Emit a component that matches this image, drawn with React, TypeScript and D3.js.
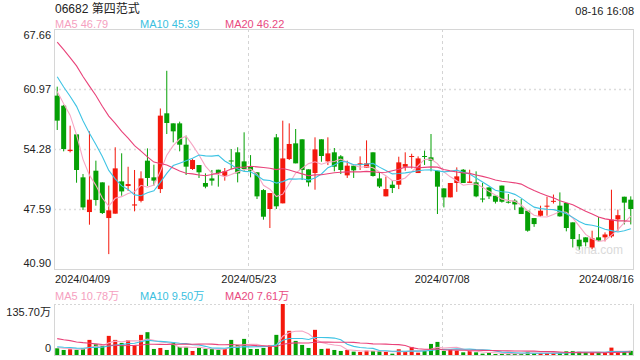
import React from 'react';
import * as d3 from 'd3';

const dates = [
  "2024/04/09","2024/04/10","2024/04/11","2024/04/12","2024/04/15","2024/04/16","2024/04/17","2024/04/18","2024/04/19","2024/04/22",
  "2024/04/23","2024/04/24","2024/04/25","2024/04/26","2024/04/29","2024/04/30","2024/05/02","2024/05/03","2024/05/06","2024/05/07",
  "2024/05/08","2024/05/09","2024/05/10","2024/05/13","2024/05/14","2024/05/16","2024/05/17","2024/05/20","2024/05/21","2024/05/22",
  "2024/05/23","2024/05/24","2024/05/27","2024/05/28","2024/05/29","2024/05/30","2024/05/31","2024/06/03","2024/06/04","2024/06/05",
  "2024/06/06","2024/06/07","2024/06/11","2024/06/12","2024/06/13","2024/06/14","2024/06/17","2024/06/18","2024/06/19","2024/06/20",
  "2024/06/21","2024/06/24","2024/06/25","2024/06/26","2024/06/27","2024/06/28","2024/07/02","2024/07/03","2024/07/04","2024/07/05",
  "2024/07/08","2024/07/09","2024/07/10","2024/07/11","2024/07/12","2024/07/15","2024/07/16","2024/07/17","2024/07/18","2024/07/19",
  "2024/07/22","2024/07/23","2024/07/24","2024/07/25","2024/07/26","2024/07/29","2024/07/30","2024/07/31","2024/08/01","2024/08/02",
  "2024/08/05","2024/08/06","2024/08/07","2024/08/08","2024/08/09","2024/08/12","2024/08/13","2024/08/14","2024/08/15","2024/08/16"
];

const openP = [
  60.23,59.11,54.05,55.91,51.12,47.25,51.86,50.56,46.58,47.07,
  50.67,50.15,47.98,48.50,52.98,51.12,49.81,58.26,57.14,57.14,
  54.76,52.05,52.49,50.49,51.00,51.97,51.30,53.00,53.91,52.90,
  52.31,51.68,49.70,47.59,55.58,48.22,53.16,54.91,55.36,52.01,
  51.60,55.36,52.90,53.91,53.46,51.34,52.42,52.50,52.20,53.91,
  51.00,49.00,50.30,50.30,52.30,53.40,51.60,53.50,53.35,51.86,
  49.89,48.89,50.49,51.97,50.50,50.56,48.76,50.00,49.07,50.20,
  48.40,48.52,47.77,47.40,46.58,46.84,47.85,48.40,47.96,48.26,
  46.10,44.17,44.43,43.30,44.43,44.43,44.54,46.43,48.96,48.63
];
const highP = [
  61.23,59.20,56.88,55.95,51.49,56.25,52.98,50.56,50.20,54.47,
  53.80,52.30,51.94,51.79,54.35,52.53,58.80,63.00,57.14,57.33,
  55.77,53.16,52.49,51.56,51.94,51.97,52.16,54.28,54.47,56.14,
  53.60,51.68,49.81,49.37,55.95,57.44,57.14,56.51,55.36,52.01,
  55.58,55.36,55.58,54.39,53.60,52.98,52.50,53.46,55.24,53.91,
  51.68,51.20,50.82,53.42,53.91,53.75,53.46,54.10,55.95,51.86,
  49.89,50.49,52.23,52.05,51.97,51.79,50.50,50.00,49.07,50.20,
  49.26,48.70,48.70,47.40,46.58,47.96,48.96,49.20,49.44,48.26,
  46.10,44.80,44.43,45.17,46.70,44.98,49.74,47.52,48.96,49.00
];
const lowP = [
  56.40,54.02,53.90,50.52,47.47,45.84,47.96,47.03,42.56,47.07,
  49.07,49.60,47.33,48.33,50.15,50.20,49.37,55.95,55.02,54.02,
  51.38,51.94,51.05,49.90,50.20,50.08,50.75,52.05,50.56,51.86,
  51.12,48.70,46.40,45.47,47.59,48.22,53.05,52.68,50.82,50.10,
  49.74,52.86,52.49,51.79,51.49,51.05,51.05,51.94,52.20,51.20,
  49.93,49.00,49.37,49.81,51.86,52.10,51.60,52.50,51.79,47.03,
  47.77,48.89,49.50,50.49,50.50,48.90,48.33,48.70,48.20,48.30,
  48.20,47.50,47.03,45.06,45.60,46.73,46.84,48.20,46.73,45.10,
  43.30,43.05,43.42,43.10,43.95,43.98,44.39,45.10,45.87,45.87
];
const closeP = [
  57.44,54.28,54.20,51.94,47.77,48.63,48.59,47.14,47.44,52.12,
  49.55,50.37,48.10,51.00,51.05,50.75,58.00,57.18,56.25,54.76,
  52.31,53.05,51.68,50.08,50.75,51.60,51.79,52.95,51.56,52.05,
  51.86,49.00,46.73,49.37,47.89,53.23,54.84,52.68,51.94,50.56,
  54.24,53.50,53.79,52.31,51.94,52.42,51.90,52.68,52.68,51.27,
  50.10,49.81,49.93,52.79,52.60,53.50,53.23,53.45,52.98,50.08,
  48.89,50.49,51.23,50.49,50.65,49.00,48.65,49.00,48.40,48.40,
  48.30,48.10,47.03,45.17,45.91,47.40,47.96,48.50,46.77,45.47,
  44.24,43.42,43.88,44.32,44.06,44.75,46.40,46.90,48.30,47.59
];
// volume in 万 shares
const volume = [
  17.86,13.39,15.18,13.39,16.97,40.18,28.57,25.00,50.90,40.18,
  32.15,39.29,25.00,53.58,60.72,16.07,18.75,13.39,33.04,21.43,
  21.43,10.72,18.75,16.07,16.07,13.39,16.07,40.18,26.79,42.86,
  16.07,16.07,18.75,25.89,53.58,135.70,64.29,37.50,26.79,18.75,
  66.96,16.07,16.97,13.39,10.72,13.39,8.93,8.04,11.61,10.72,
  10.72,8.04,3.57,15.18,8.04,21.43,6.25,10.72,29.47,34.82,
  10.72,14.29,11.61,7.14,10.72,7.14,3.57,5.36,2.68,2.68,
  4.47,3.57,4.47,7.14,5.36,5.36,5.36,5.36,6.25,9.82,
  10.72,8.93,7.14,7.14,7.14,7.14,19.64,7.14,8.93,11.05
];
// sessions before the visible window (only feed the moving averages)
const priorCloses = [71.0,72.0,70.5,71.5,70.0,69.5,71.0,69.5,68.6,67.0,65.8,64.5,63.2,63.9,62.5,61.2,60.5,62.9,61.46];
const priorVolumes = [72,60,85,55,70,64,58,75,52,59,28,22,30,19,21,24,18,22,18];

const priceTicks = [67.66, 60.97, 54.28, 47.59, 40.90];
const volumeTicks = [135.70, 0];
const dateTicks = ["2024/04/09", "2024/05/23", "2024/07/08", "2024/08/16"];
const maPeriods = [5, 10, 20];
const maColors = ["#f7a6c4", "#3fc4e4", "#e9437a"];
const maTextColors = ["#f59fc0", "#3bbfe0", "#e84a7f"];

const RED = "#f4180c";
const GREEN = "#05a005";
const FONT = '"Liberation Sans", Arial, "Noto Sans CJK SC", sans-serif';

function movingAvg(prior: number[], vals: number[], n: number): number[] {
  const all = prior.concat(vals);
  const off = prior.length;
  return vals.map((_, i) => d3.mean(all.slice(off + i - n + 1, off + i + 1)) as number);
}

export default function App() {
  const L = 54, R = 634;
  const top = 29, bottom = 269;
  const vTop = 304, vBottom = 355;

  const x = d3.scaleBand<string>().domain(dates).range([L, R]).padding(0);
  const bw = x.bandwidth();
  const cx = (d: string) => (x(d) as number) + bw / 2;
  const y = d3.scaleLinear().domain([40.90, 67.66]).range([bottom, top]);
  const yv = d3.scaleLinear().domain([0, 135.70]).range([vBottom, vTop]);

  const priceMA = maPeriods.map(n => movingAvg(priorCloses, closeP, n));
  const volMA = maPeriods.map(n => movingAvg(priorVolumes, volume, n));

  const lineP = d3.line<number>().x((_, i) => cx(dates[i])).y(v => y(v)).curve(d3.curveLinear);
  const lineV = d3.line<number>().x((_, i) => cx(dates[i])).y(v => yv(v)).curve(d3.curveLinear);

  const bodyW = 5;
  const volW = 4;
  const legendX = [55, 140, 225];

  return (
    <svg width={640} height={360} style={{ position: 'absolute', left: 0, top: 0, background: '#fff' }} fontFamily={FONT}>
      {/* header */}
      <text x={55} y={13} fontSize={12} fill="#222">06682 第四范式</text>
      <text x={634} y={15} fontSize={11} fill="#222" textAnchor="end">08-16 16:08</text>
      {maPeriods.map((n, k) => (
        <text key={'lg' + n} x={legendX[k]} y={28} fontSize={11} fill={maTextColors[k]}>
          {`MA${n} ${priceMA[k][priceMA[k].length - 1].toFixed(2)}`}
        </text>
      ))}

      {/* main grid */}
      {priceTicks.slice(1, -1).map(t => (
        <line key={'g' + t} x1={L} x2={R} y1={Math.round(y(t)) + 0.5} y2={Math.round(y(t)) + 0.5}
          stroke="#dcdcdc" strokeWidth={1.5} strokeDasharray="2,3" />
      ))}
      {dateTicks.slice(1, -1).map(d => (
        <g key={'vg' + d}>
          <line x1={Math.round((x(d) as number) + 1) + 0.5} x2={Math.round((x(d) as number) + 1) + 0.5} y1={top} y2={bottom}
            stroke="#d4d4d4" strokeWidth={1} strokeDasharray="3,3" />
          <line x1={Math.round((x(d) as number) + 1) + 0.5} x2={Math.round((x(d) as number) + 1) + 0.5} y1={vTop} y2={vBottom}
            stroke="#d4d4d4" strokeWidth={1} strokeDasharray="3,3" />
        </g>
      ))}
      <rect x={L + 0.5} y={top + 0.5} width={R - L - 1} height={bottom - top} fill="none" stroke="#d6d6d6" strokeWidth={1} />

      {/* price labels */}
      {priceTicks.map((t, i) => {
        let yy = y(t) + 4;
        if (i === 0) yy += 6;
        if (i === priceTicks.length - 1) yy -= 6;
        return <text key={'pt' + t} x={51} y={yy} fontSize={11} fill="#222" textAnchor="end">{t.toFixed(2)}</text>;
      })}

      {/* date labels */}
      {dateTicks.map((d, i) => {
        const anchor = i === 0 ? 'start' : i === dateTicks.length - 1 ? 'end' : 'middle';
        const xx = i === 0 ? L + 1 : i === dateTicks.length - 1 ? R : (x(d) as number) + 1.5;
        return <text key={'dt' + d} x={xx} y={283} fontSize={11} fill="#222" textAnchor={anchor}>{d}</text>;
      })}

      {/* watermark */}
      <text x={623} y={254} fontSize={12} fill="#dadada" textAnchor="end">sina.com</text>

      {/* candles */}
      {dates.map((d, i) => {
        const o = openP[i], c = closeP[i], h = highP[i], l = lowP[i];
        const up = c >= o;
        const col = up ? RED : GREEN;
        const xc = cx(d);
        const yTop = y(Math.max(o, c));
        const yBot = y(Math.min(o, c));
        const bh = Math.max(1, yBot - yTop);
        return (
          <g key={'c' + d}>
            <line x1={xc} x2={xc} y1={y(h)} y2={y(l)} stroke={col} strokeWidth={1} />
            <rect x={xc - bodyW / 2} y={yTop} width={bodyW} height={bh} fill={col} />
          </g>
        );
      })}

      {/* price MAs */}
      {priceMA.map((arr, k) => (
        <path key={'pm' + k} d={lineP(arr) as string} fill="none" stroke={maColors[k]} strokeWidth={1.1} />
      ))}

      {/* volume panel */}
      {maPeriods.map((n, k) => (
        <text key={'vlg' + n} x={legendX[k]} y={300} fontSize={11} fill={maTextColors[k]}>
          {`MA${n} ${volMA[k][volMA[k].length - 1].toFixed(2)}万`}
        </text>
      ))}
      <line x1={L} x2={R} y1={vTop + 0.5} y2={vTop + 0.5} stroke="#d6d6d6" strokeWidth={1} strokeDasharray="2,2" />
      <line x1={L + 0.5} x2={L + 0.5} y1={vTop} y2={vBottom} stroke="#d6d6d6" strokeWidth={1} />
      <line x1={R - 0.5} x2={R - 0.5} y1={vTop} y2={vBottom} stroke="#d6d6d6" strokeWidth={1} />
      <line x1={L} x2={R} y1={vBottom + 0.5} y2={vBottom + 0.5} stroke="#d6d6d6" strokeWidth={1} />
      {volumeTicks.map((t, i) => (
        <text key={'vt' + t} x={51} y={i === 0 ? yv(t) + 12 : yv(t) - 3} fontSize={11} fill="#222" textAnchor="end">
          {i === 0 ? `${t.toFixed(2)}万` : '0'}
        </text>
      ))}
      {dates.map((d, i) => {
        const up = closeP[i] >= openP[i];
        return (
          <rect key={'v' + d} x={cx(d) - volW / 2} y={yv(volume[i])} width={volW}
            height={vBottom - yv(volume[i])} fill={up ? RED : GREEN} />
        );
      })}
      {volMA.map((arr, k) => (
        <path key={'vm' + k} d={lineV(arr) as string} fill="none" stroke={maColors[k]} strokeWidth={1.1} />
      ))}
    </svg>
  );
}
